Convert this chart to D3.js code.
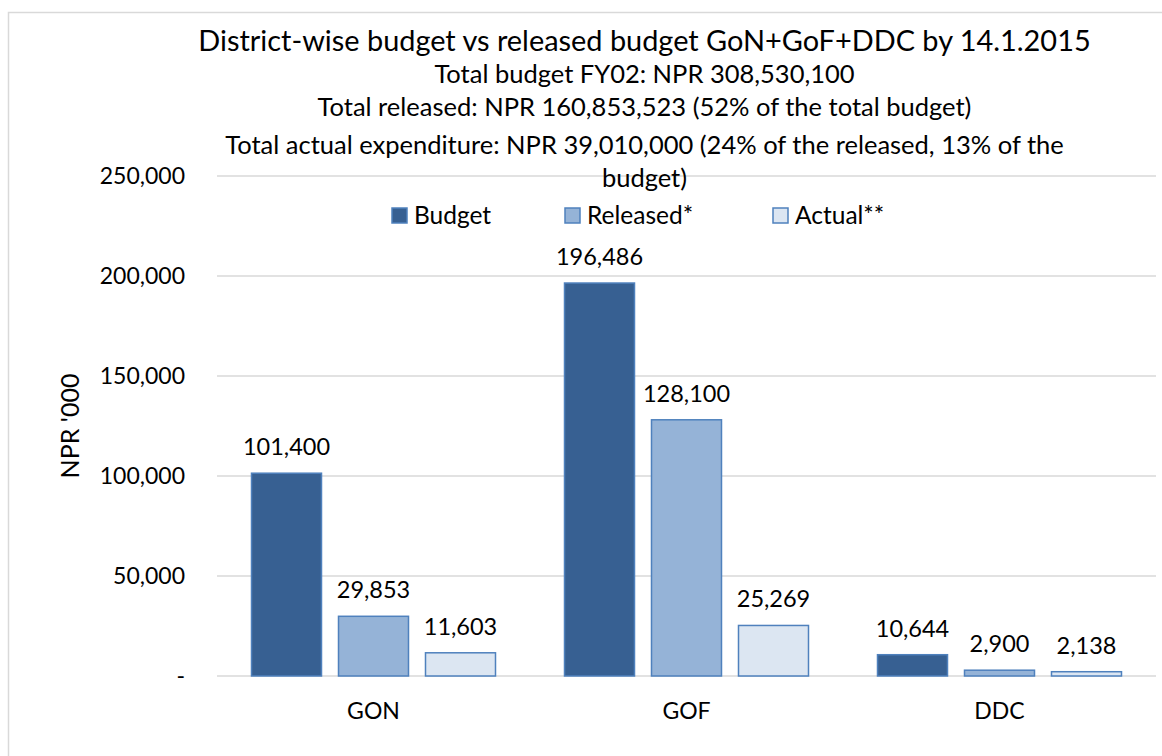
<!DOCTYPE html>
<html><head><meta charset="utf-8">
<script src="https://cdn.jsdelivr.net/npm/d3@7"></script>
<style>body{margin:0;background:#fff;} text{font-family:Lato, "Open Sans", sans-serif;fill:#000;}</style>
</head><body>
<svg id="c" width="1162" height="756"></svg>
<script>
(function(){
const categories = ["GON", "GOF", "DDC"];
const seriesNames = ["Budget", "Released*", "Actual**"];
const budget = [101400, 196486, 10644];
const released = [29853, 128100, 2900];
const actual = [11603, 25269, 2138];
const yTicks = [0, 50000, 100000, 150000, 200000, 250000];
const titleLines = [
  "District-wise budget vs released budget GoN+GoF+DDC by 14.1.2015",
  "Total budget FY02: NPR 308,530,100",
  "Total released: NPR 160,853,523 (52% of the total budget)",
  "Total actual expenditure: NPR 39,010,000 (24% of the released, 13% of the",
  "budget)"
];
const yAxisTitle = "NPR '000";

const fills = ["#376092", "#95b3d7", "#dce6f2"];
const seriesVals = [budget, released, actual];

const svg = d3.select("#c");
svg.append("rect").attr("x", 8.5).attr("y", 12.5).attr("width", 1300).attr("height", 900)
  .attr("fill", "#fff").attr("stroke", "#d9d9d9").attr("stroke-width", 1.5);

const pLeft = 217, pRight = 1156, pTop = 176, pBottom = 676;
const y = d3.scaleLinear().domain([0, 250000]).range([pBottom, pTop]);
const x0 = d3.scaleBand().domain(categories).range([pLeft, pRight]).padding(0);
const x1 = d3.scaleBand().domain(seriesNames).range([0, x0.bandwidth()])
  .paddingInner(17/87).paddingOuter(0.3966);

svg.append("g").selectAll("line").data(yTicks).join("line")
  .attr("x1", pLeft).attr("x2", pRight)
  .attr("y1", d => y(d)).attr("y2", d => y(d))
  .attr("stroke", "#d9d9d9").attr("stroke-width", 1.5);

const fmt = d3.format(",");
svg.append("g").selectAll("text").data(yTicks).join("text")
  .attr("x", 185).attr("y", d => y(d) + 8)
  .attr("text-anchor", "end").style("font-size", "23px")
  .text(d => d === 0 ? "-" : fmt(d));

svg.append("text").attr("transform", `translate(79,${(pTop+pBottom)/2}) rotate(-90)`)
  .attr("text-anchor", "middle").style("font-size", "25px").text(yAxisTitle);

const groups = svg.append("g").selectAll("g").data(categories).join("g")
  .attr("transform", d => `translate(${x0(d)},0)`);
groups.each(function(cat, ci) {
  const g = d3.select(this);
  const data = seriesNames.map((s, si) => ({s, si, v: seriesVals[si][ci]}));
  g.selectAll("rect").data(data).join("rect")
    .attr("x", d => x1(d.s)).attr("width", x1.bandwidth())
    .attr("y", d => y(d.v)).attr("height", d => y(0) - y(d.v))
    .attr("fill", d => fills[d.si]).attr("stroke", "#4f81bd").attr("stroke-width", 1.5);
  g.selectAll("text").data(data).join("text")
    .attr("x", d => x1(d.s) + x1.bandwidth()/2).attr("y", d => y(d.v) - 18)
    .attr("text-anchor", "middle").style("font-size", "23.5px")
    .text(d => fmt(d.v));
});

svg.append("g").selectAll("text").data(categories).join("text")
  .attr("x", d => x0(d) + x0.bandwidth()/2).attr("y", 719)
  .attr("text-anchor", "middle").style("font-size", "23px").text(d => d);

const cx = 644.5;
const titleY = [51, 83, 116, 154, 187];
const titleSize = [28.9, 25.5, 25.5, 25.5, 25.5];
svg.append("g").selectAll("text").data(titleLines).join("text")
  .attr("x", cx).attr("y", (d, i) => titleY[i])
  .attr("text-anchor", "middle").style("font-size", (d, i) => titleSize[i] + "px")
  .text(d => d);

const legX = [392, 565, 773];
const leg = svg.append("g").selectAll("g").data(seriesNames).join("g")
  .attr("transform", (d, i) => `translate(${legX[i]},208)`);
leg.append("rect").attr("width", 15).attr("height", 15)
  .attr("fill", (d, i) => fills[i]).attr("stroke", "#4f81bd").attr("stroke-width", 1.5);
leg.append("text").attr("x", 22).attr("y", 16).style("font-size", "24.5px").text(d => d);
})();
</script>
</body></html>
